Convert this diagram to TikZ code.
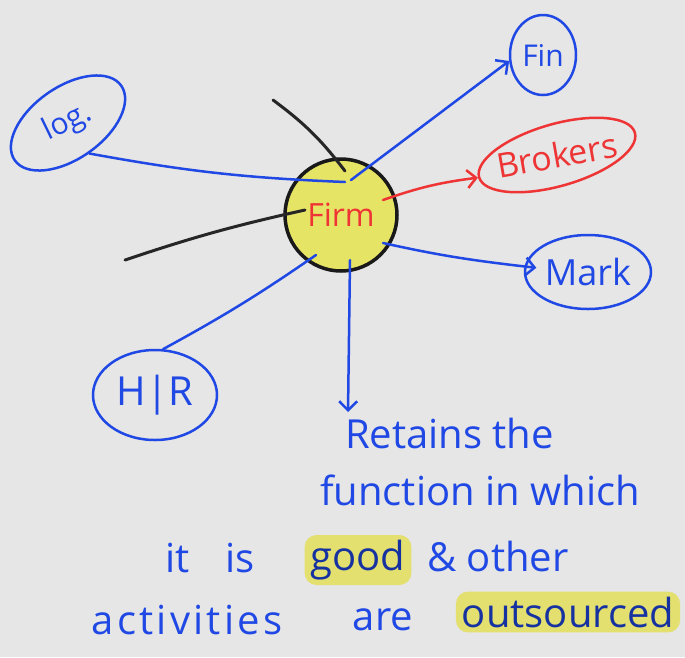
\documentclass[tikz,border=0pt]{standalone}
\usepackage{fontspec}
\setmainfont{Open Sans}
\usetikzlibrary{shapes.geometric, arrows.meta, positioning, calc}
\definecolor{paper}{RGB}{230,230,230}
\definecolor{inkblue}{RGB}{32,72,228}
\definecolor{inkred}{RGB}{238,52,52}
\definecolor{firmyellow}{RGB}{230,228,100}
\definecolor{hlyellow}{RGB}{228,224,112}
\tikzset{
  fn bubble/.style={
    ellipse, draw=inkblue, line width=2.5pt, text=inkblue,
    font=\fontsize{30}{32}\selectfont, inner sep=0pt
  },
  fn firm/.style={
    circle, draw=black!90, line width=3.5pt, fill=firmyellow,
    minimum size=112pt, text=inkred,
    font=\fontsize{32}{34}\selectfont, inner sep=0pt
  },
  fn arrow/.style={
    -{Straight Barb[length=9pt,width=18pt]}, line width=2.5pt,
    draw=inkblue, line cap=round
  },
  fn link/.style={
    line width=2.5pt, draw=inkblue, line cap=round
  },
  fn stub/.style={
    line width=3pt, draw=black!85, line cap=round
  },
  fn text/.style={
    text=inkblue, font=\fontsize{40}{42}\selectfont, inner sep=0pt
  },
  fn mark/.style={
    fn text, text=inkblue!70!black, fill=hlyellow,
    rounded corners=12pt, inner xsep=6pt, inner ysep=5pt
  }
}

\begin{document}
\begin{tikzpicture}[x=1pt, y=-1pt]
  \fill [paper] (0,0) rectangle (685,657);
  \useasboundingbox (0,0) rectangle (685,657);

  % loose strokes behind the firm
  \coordinate (stub a) at (273,100);
  \coordinate (stub b) at (125,260);

  \node (firm) [fn firm] at (341,215) {Firm};
  \node (log) [fn bubble, minimum width=130pt, minimum height=72pt, rotate=35] at (68,123) {};
  \node (log text) [text=inkblue, font=\fontsize{30}{32}\selectfont, rotate=26] at (log.center) {log.};
  \node (fin) [fn bubble, minimum width=66pt, minimum height=80pt] at (543,55) {Fin};
  \node (brokers) [fn bubble, draw=inkred, minimum width=162pt, minimum height=62pt,
    rotate=16] at (557,155) {};
  \node (brokers text) [text=inkred, font=\fontsize{34}{36}\selectfont, rotate=10] at (brokers.center) {Brokers};
  \node (mark) [fn bubble, minimum width=126pt, minimum height=74pt,
    font=\fontsize{36}{38}\selectfont] at (588,272) {Mark};
  \node (hr) [fn bubble, minimum width=124pt, minimum height=90pt,
    font=\fontsize{40}{42}\selectfont] at (155,395) {H|R};

  \draw [fn stub] (stub a) to[bend left=8] ($(firm.center)+(4,-44)$);
  \draw [fn stub] (stub b) to[bend left=3] ($(firm.center)+(-36,-5)$);

  \draw [fn link] (log.south) to[bend right=4] ($(firm.center)+(4,-33)$);
  \draw [fn link] ($(firm.center)+(-25,40)$) to[bend left=3] (hr.80);
  \draw [fn arrow] ($(firm.center)+(10,-35)$) -- (fin.190);
  \draw [fn arrow, draw=inkred] ($(firm.center)+(42,-15)$) to[bend left=6] (brokers.west);
  \draw [fn arrow, shorten >=-12pt] ($(firm.center)+(42,28)$) to[bend right=3] (mark.175);

  % what the firm keeps and what it hands out
  \node (retain) [fn text, anchor=north west] at (345,418) {Retains the};
  \node (function) [fn text] at (480,490) {function in which};
  \node (itis) [fn text] at (210,558) {it\hspace{0.9em}is};
  \node (good) [fn mark] at (358,560) {good};
  \node (other) [fn text] at (498,556) {\& other};
  \node (activ) [fn text, font=\fontsize{40}{42}\selectfont\addfontfeature{LetterSpace=8}] at (187,620) {activities};
  \node (are) [fn text] at (383,620) {are};
  \node (outsrc) [fn mark] at (568,612) {outsourced};

  \draw [fn arrow] ($(firm.center)+(9,45)$) -- ($(retain.north west)+(3,-6)$);
\end{tikzpicture}
\end{document}
